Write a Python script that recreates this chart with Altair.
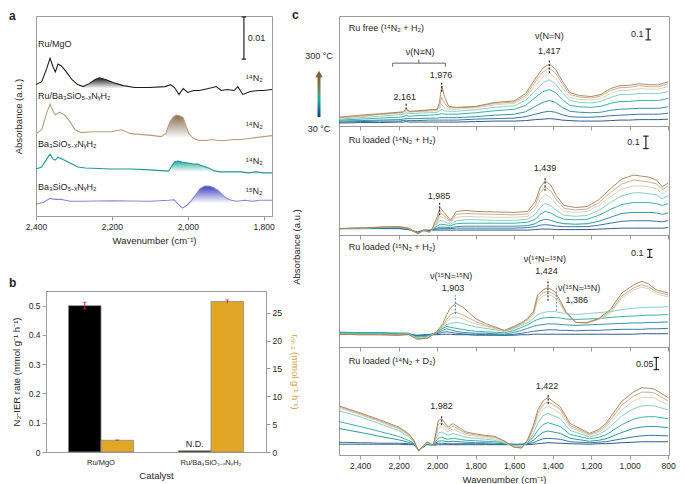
import altair as alt
import pandas as pd

FONT = "Liberation Sans"
TXT = "#262626"
FRAME = "#9b9b9b"

# ================= Panel a : DRIFT spectra (a.u.; scale bar 0.01 = 43 units) =================
A_WN_MGO = [2400, 2385, 2372, 2363, 2355, 2349, 2342, 2333, 2320, 2305, 2290, 2276, 2260, 2245, 2233, 2215, 2195, 2170, 2140, 2100,
            2060, 2045, 2035, 2023, 2012, 2000, 1985, 1970, 1945, 1925, 1912, 1895, 1878, 1868, 1855, 1835, 1815, 1800, 1778]
A_MGO = [134, 137, 150, 161, 152, 147, 155, 153, 147, 139, 134, 132, 135, 139, 141, 139, 136, 133, 131, 131,
         132, 134, 131, 124, 130, 126, 128, 128, 130, 132, 128, 129, 128, 132, 124, 127, 128, 128, 129]
A_WN_RU = [2400, 2385, 2372, 2363, 2355, 2349, 2338, 2325, 2310, 2297, 2280, 2250, 2200, 2175, 2150, 2120, 2090, 2070, 2058, 2048,
           2038, 2030, 2020, 2012, 2005, 1997, 1985, 1970, 1950, 1935, 1920, 1900, 1880, 1860, 1840, 1820, 1800, 1778]
A_RU = [84, 88, 105, 114, 107, 103, 106, 103, 96, 88, 85, 86, 86, 88, 84, 83, 82, 81, 84, 95,
        101, 103, 102, 100, 92, 84, 79, 77, 77, 78, 77, 77, 78, 78, 79, 80, 81, 82]
A_WN_BA14 = [2400, 2385, 2372, 2363, 2355, 2349, 2342, 2330, 2310, 2290, 2270, 2200, 2150, 2100, 2060, 2050, 2042, 2035, 2027, 2015,
             2000, 1985, 1975, 1960, 1945, 1930, 1915, 1890, 1860, 1840, 1820, 1800, 1778]
A_BA14 = [48, 50, 58, 63, 58, 57, 60, 58, 54, 50, 49, 48, 48, 47, 46, 46, 51, 55, 56, 55,
          54, 53, 53, 51, 49, 46, 45, 45, 45, 44, 45, 44, 44]
A_WN_BA15 = [2400, 2380, 2363, 2350, 2335, 2310, 2280, 2200, 2100, 2050, 2036, 2025, 2014, 2002, 1990, 1980, 1967, 1955, 1945, 1933,
             1920, 1910, 1898, 1885, 1870, 1850, 1830, 1810, 1790, 1778]
A_BA15 = [12, 14, 18, 17, 17, 15, 15, 15.5, 15, 16, 16.5, 12, 8, 11, 16, 21, 28, 30.5, 30.5, 29,
          26, 22, 18, 16, 15, 16, 15, 16, 16, 16]

A_SAMPLES = ["Ru/MgO", "Ru/Ba₃SiO₅₋ₓNᵧH₂", "Ba₃SiO₅₋ₓNᵧH₂", "Ba₃SiO₅₋ₓNᵧH₂"]
A_GAS = ["¹⁴N₂", "¹⁴N₂", "¹⁴N₂", "¹⁵N₂"]
A_LABEL_Y = [175, 122, 73, 30]
A_GAS_Y = [141, 93, 56, 25]
A_COLORS = ["#1c1c1c", "#b99d7d", "#1c9a90", "#8585dc"]
A_FILL = ["#111111", "#7f6547", "#1aa597", "#3535b8"]
A_FILL_RANGE = [(2150, 2285), (1990, 2060), (1925, 2046), (1885, 1996)]
A_FILL_BASE = [130, 79, 45, 13]

# ================= Panel b : rates =================
B_CATS = ["Ru/MgO", "Ru/Ba₃SiO₅₋ₓNᵧH₂"]
B_IER = [0.50, 0.004]
B_IER_ERR = [0.011, 0.0]
B_NH3 = [2.1, 27.0]
B_NH3_ERR = [0.06, 0.3]

# ================= Panel c : temperature-resolved spectra =================
C_TEMPS = ["30", "69", "107", "146", "184", "223", "261", "300"]
C_COLORS = ["#1b4878", "#22679a", "#1b8a9c", "#25a89c", "#7ccabb", "#d6cdb3", "#c4a782", "#a67d52"]
C_TICKS = [2400, 2200, 2000, 1800, 1600, 1400, 1200, 1000, 800]

P1_WN = [2510, 2400, 2300, 2200, 2175, 2161, 2145, 2100, 2040, 2000, 1988, 1976, 1962, 1940, 1900, 1800, 1700, 1600,
         1540, 1490, 1450, 1417, 1385, 1350, 1310, 1260, 1200, 1150, 1100, 1050, 1000, 950, 900, 850, 800]
P1 = [
    [3, 3.5, 3.5, 4, 4, 4.5, 4, 4, 4, 4, 4, 4, 4, 4, 4, 4.5, 5, 5, 5.5, 6.5, 7, 7.5, 7, 6, 5.5, 5, 5, 5, 5.5, 6, 6, 6.5, 6.5, 6.5, 7],
    [4, 4.5, 5, 5, 5.5, 6, 5.5, 5.5, 6, 6, 6, 6, 6, 6, 6, 7, 7.5, 8, 9.5, 12, 14, 15, 14, 11.5, 9.5, 9, 9, 9.5, 10.5, 11, 11.5, 12, 12, 12, 13],
    [5, 5.5, 6, 6.5, 7, 8, 7.5, 7.5, 8, 8, 8.5, 8.5, 8.5, 8.5, 8.5, 9.5, 11, 12, 14.5, 20, 24, 26, 24, 19, 15, 14, 13.5, 14, 16, 17, 17.5, 18, 18, 18, 19.5],
    [6, 7, 8, 9, 9.5, 11, 10, 10.5, 11, 11.5, 12, 12.5, 12, 12, 12, 13.5, 15.5, 17, 21, 29, 35, 37, 34, 27, 21, 19.5, 19, 20, 23, 25, 25, 26, 26, 26, 28],
    [7, 8.5, 10, 11.5, 12, 13.5, 12.5, 13, 13.5, 14, 15.5, 17, 15.5, 15, 15, 16.5, 19, 20.5, 26, 36, 44, 47, 43, 34, 26, 24, 23.5, 25, 29, 32, 32, 33, 33, 33, 35],
    [8, 9.5, 11.5, 13, 13.5, 15.5, 14, 14.5, 15, 15.5, 18, 22, 18.5, 17, 17, 18.5, 21.5, 23, 29, 41, 50, 54, 49, 39, 29, 27, 26.5, 28, 33, 36, 36.5, 38, 37.5, 37.5, 40],
    [8.5, 10, 12, 13.5, 14, 16.5, 14.5, 15, 16, 16.5, 20, 29, 23, 18.5, 18.5, 19.5, 23, 24.5, 31, 45, 55, 59, 54, 43, 32, 29.5, 28.5, 30.5, 36, 39, 39.5, 41, 40, 40, 43],
    [9, 11, 12.5, 14, 14.5, 18, 15, 15.5, 16.5, 17, 24, 41, 30, 20, 19, 20, 24, 25.5, 33, 48, 59, 63, 58, 46, 34, 31, 30, 32, 38, 41, 41.5, 43, 42, 42, 45],
]

P2_WN = [2510, 2400, 2300, 2200, 2150, 2100, 2070, 2040, 2025, 2000, 1985, 1960, 1930, 1900, 1850, 1800, 1700, 1600,
         1530, 1490, 1465, 1439, 1410, 1380, 1340, 1280, 1220, 1160, 1100, 1040, 980, 940, 900, 860, 830, 800]
P2 = [
    [6.5, 6.5, 6.5, 6.5, 5.5, 3, 5, 5, 5, 5, 5, 5, 5, 5, 5, 5, 5, 5, 5, 5.5, 6, 6, 6, 5.5, 5.5, 5.5, 5.5, 6, 6.5, 7, 7, 7, 7, 7, 7, 7.5],
    [6.5, 6.5, 7, 7, 6, 2.5, 5, 4.5, 5.5, 6, 6.5, 6.5, 6.5, 7, 7, 7, 7, 7, 7.5, 8.5, 10, 10.5, 10, 9, 8.5, 8.5, 8.5, 10, 12, 14, 14.5, 14.5, 14.5, 14, 13.5, 14.5],
    [6.5, 7, 7, 7.5, 6.5, 2, 4.5, 4, 5.5, 7, 8, 8, 7.5, 8.5, 9, 9, 9, 9, 9.5, 11.5, 14.5, 16, 15, 13, 11.5, 11, 11.5, 14, 18, 22, 23, 23, 23, 22.5, 21, 22.5],
    [6.5, 7, 7.5, 8, 6.5, 1.5, 4.5, 3.5, 5.5, 9, 11, 10.5, 9.5, 11.5, 12, 12, 12, 12, 13, 16, 21, 24, 22.5, 19, 16, 15.5, 16, 20, 26, 31, 33, 33, 33, 32, 30, 32],
    [6.5, 7, 7.5, 8, 6.5, 1.5, 4.5, 3, 5.5, 11, 15, 13.5, 11, 14.5, 15.5, 15.5, 15, 15, 16, 21, 28, 32, 30, 25, 20, 19, 20, 25, 33, 40, 43, 43, 42, 41, 37, 40],
    [6.5, 7, 8, 8.5, 7, 1.5, 5, 3, 6, 13, 19, 16.5, 13, 18, 19, 18.5, 18, 18, 19, 26, 36, 41, 38, 31, 24, 23, 24, 30, 39, 47, 50, 50, 49, 47, 42, 46],
    [6.5, 7, 8, 8.5, 7, 1.5, 5, 3, 6.5, 15, 23, 19, 14, 21, 22, 21.5, 21, 20.5, 21.5, 30, 43, 49, 45, 36, 27, 25.5, 26.5, 33, 43, 52, 56, 55, 54, 52, 46, 50],
    [6.5, 7, 8, 8.5, 7, 1.5, 5, 3, 7, 18, 28, 22, 15, 24, 25, 24, 23.5, 23, 24, 34, 48, 55, 51, 40, 30, 28, 29, 36, 47, 57, 61, 60, 59, 56, 49, 53],
]

P3_WN = [2510, 2400, 2300, 2200, 2150, 2104, 2050, 2003, 1970, 1950, 1930, 1903, 1870, 1840, 1800, 1750, 1700, 1650, 1600,
         1560, 1530, 1500, 1478, 1450, 1424, 1386, 1360, 1330, 1280, 1220, 1160, 1100, 1040, 980, 937, 900, 860, 800]
P3 = [
    [13, 13, 13, 12.5, 12.5, 12, 12.5, 12.5, 13, 13, 13, 12.5, 12.5, 12.5, 12, 12, 12, 12, 12, 12.5, 12.5, 13, 13, 13, 13, 13, 13, 13, 13, 13, 13, 13, 13, 13, 13.5, 13.5, 13.5, 13.5],
    [14, 14, 14, 13.5, 13.5, 11.5, 12.5, 13.5, 15, 15.5, 15, 14, 13.5, 13, 13, 12.5, 12.5, 12, 13, 14, 15, 16, 16.5, 17, 17.5, 17.5, 17, 17, 16.5, 17, 17, 17.5, 18, 18, 18, 18.5, 18.5, 19],
    [15, 14.5, 14.5, 14, 14, 11, 12, 14.5, 17, 18.5, 17.5, 16, 15, 14.5, 14, 14, 13.5, 13, 15, 17, 19, 21, 22, 23, 23.5, 23.5, 23, 22.5, 22, 22.5, 23, 23.5, 24, 24.5, 24.5, 25, 25, 25.5],
    [15, 14.5, 14.5, 14, 14, 10, 11, 15, 19, 21, 20, 19, 18, 17, 16, 15.5, 15, 14.5, 17, 20, 22.5, 26, 28, 29.5, 30, 30, 29.5, 28.5, 28, 28.5, 29, 30, 31, 31.5, 32, 32.5, 32.5, 33],
    [14, 13.5, 13.5, 13, 13.5, 9, 10, 15, 20, 23, 24, 25, 24, 22.5, 20.5, 19, 17.5, 16, 19, 22, 25, 29, 33, 35, 36, 36, 35, 34, 33, 34, 35, 36, 38, 39.5, 40, 40.5, 40.5, 41],
    [13, 12.5, 12.5, 12, 13, 8.5, 9.5, 15, 21, 26, 29, 30.5, 29, 26.5, 23.5, 21, 18.5, 16, 19.5, 23, 27, 32, 47, 52, 54, 50, 43, 34, 25, 24, 28, 34, 50, 58, 61, 59, 54, 51],
    [13, 12.5, 12.5, 12, 13, 8, 9, 15, 22, 28, 33, 35.5, 33, 30, 26, 22, 19.5, 16.5, 20, 24, 28, 34, 50, 55, 57, 53, 45, 35, 25, 24.5, 28.5, 36, 52, 60, 63.5, 61, 56, 53],
    [13, 12.5, 12.5, 12, 13, 8, 9, 15, 24, 33, 40, 44.5, 41, 36, 29, 24, 20.5, 17, 21, 25, 29, 36, 53, 58, 60.5, 56, 47, 36, 25, 25, 29, 38, 55, 63, 67, 64, 58, 55],
]

P4_WN = [2510, 2400, 2358, 2300, 2200, 2150, 2121, 2096, 2053, 2020, 1994, 1977, 1943, 1918, 1850, 1800, 1750, 1700, 1648,
         1600, 1560, 1529, 1500, 1478, 1450, 1424, 1360, 1309, 1208, 1160, 1123, 1039, 980, 937, 900, 870, 800]
P4 = [
    [11, 11, 11, 11, 11, 10.5, 10.5, 5, 10.5, 10, 10.5, 10.5, 10.5, 10.5, 10.5, 10.5, 10.5, 10.5, 10.5, 10.5, 10.5, 10.5, 11, 11.5, 12, 12.5, 12, 11.5, 11, 11.5, 11.5, 12.5, 13, 13.5, 13.5, 13.5, 13.5],
    [13, 12.5, 12.5, 12, 12, 11.5, 11, 5, 11, 10.5, 12, 12, 11.5, 11.5, 11.5, 11.5, 11.5, 11, 11, 11, 11, 11.5, 12.5, 14.5, 16.5, 17, 16, 13.5, 12.5, 13, 13.5, 16.5, 18.5, 19.5, 20, 20, 19.5],
    [27, 23, 21.5, 19, 15.5, 13, 11.5, 5, 11, 10.5, 14, 14.5, 13.5, 14, 13, 12.5, 12.5, 12, 11.5, 10.5, 11, 12, 15, 19, 23, 24.5, 22, 17, 14, 15, 16.5, 23, 27, 28.5, 29, 29, 28],
    [34, 29, 27, 24, 19, 15, 12, 4.5, 11, 10.5, 17, 18, 16, 17, 15, 14.5, 14, 13.5, 12.5, 10.5, 10.5, 13, 18, 25, 31, 33, 29, 21, 16.5, 18, 20.5, 31, 36.5, 38.5, 39, 39, 37],
    [45, 39, 36, 32, 25, 19, 13.5, 4, 12, 10.5, 22, 23.5, 20, 22, 18, 17, 16, 15, 12, 9, 8.5, 13, 22, 32, 40, 42.5, 37, 25, 18.5, 21, 25, 40, 47, 50, 50.5, 50, 46],
    [48, 41, 38, 34, 26.5, 20, 14, 4, 12.5, 10, 27, 29, 23.5, 26.5, 20.5, 19, 17.5, 16.5, 12.5, 8.5, 8, 14, 26, 38, 46.5, 50, 42.5, 28, 20, 23, 28, 46, 55, 58.5, 58.5, 58, 51],
    [49, 42, 39, 35, 27.5, 21, 14.5, 4, 13, 10, 31, 33, 26, 29.5, 22, 20.5, 19, 18, 13.5, 8, 7.5, 15, 28, 42, 51, 54.5, 46.5, 30, 21, 24.5, 30, 51, 60, 64, 64, 63, 55],
    [50, 43, 40, 36, 28.5, 22, 15, 4, 13.5, 10, 35, 37, 28.5, 32, 23.5, 21.5, 20, 19, 14, 8, 7, 16, 30, 45, 55, 58.5, 49, 32, 22, 26, 32, 55, 64, 68.5, 68, 67, 58.5],
]

ONE = pd.DataFrame({"k": [0]})


def grad(color):
    return alt.LinearGradient(
        gradient="linear",
        stops=[alt.GradientStop(color=color, offset=0), alt.GradientStop(color="#ffffff", offset=1)],
        x1=0, x2=0, y1=0, y2=1)


def pix_text(txt, x, y, **kw):
    return alt.Chart(ONE).mark_text(text=txt, **kw).encode(x=alt.value(x), y=alt.value(y))


# ---------------- panel a ----------------
xa = alt.X("wn:Q", scale=alt.Scale(domain=[1778, 2400], reverse=True, nice=False, zero=False),
           axis=alt.Axis(values=[2400, 2200, 2000, 1800], format=",d", title="Wavenumber (cm⁻¹)", titlePadding=5))
ya = alt.Y("A:Q", scale=alt.Scale(domain=[0, 204], nice=False, zero=False),
           axis=alt.Axis(title="Absorbance (a.u.)", labels=False, ticks=False, domain=False, titlePadding=13))

a_layers = []
for wn, vals, col, fcol, (lo, hi), base in zip([A_WN_MGO, A_WN_RU, A_WN_BA14, A_WN_BA15],
                                               [A_MGO, A_RU, A_BA14, A_BA15],
                                               A_COLORS, A_FILL, A_FILL_RANGE, A_FILL_BASE):
    df = pd.DataFrame({"wn": wn, "A": vals})
    a_layers.append(alt.Chart(df).transform_filter(f"datum.wn >= {lo} && datum.wn <= {hi}")
                    .mark_area(fill=grad(fcol), opacity=0.95)
                    .encode(x=xa, y=ya, y2=alt.datum(base)))
    a_layers.append(alt.Chart(df).mark_line(color=col, strokeWidth=1.1).encode(x=xa, y=ya))

a_lab = pd.DataFrame({"wn": [2395] * 4, "A": A_LABEL_Y, "t": A_SAMPLES})
a_gas = pd.DataFrame({"wn": [1847] * 4, "A": A_GAS_Y, "t": A_GAS})
a_layers.append(alt.Chart(a_lab).mark_text(align="left", baseline="middle", fontSize=9).encode(x=xa, y=ya, text="t:N"))
a_layers.append(alt.Chart(a_gas).mark_text(align="left", baseline="middle", fontSize=9).encode(x=xa, y=ya, text="t:N"))
a_bar = pd.DataFrame({"wn": [1852], "A": [160], "A2": [203]})
a_cap = pd.DataFrame({"wn": [1858, 1858], "wn2": [1846, 1846], "A": [160, 203]})
a_layers.append(alt.Chart(a_bar).mark_rule(color="#222", strokeWidth=1.2).encode(x=xa, y=ya, y2="A2:Q"))
a_layers.append(alt.Chart(a_cap).mark_rule(color="#222", strokeWidth=1.2).encode(x=xa, x2="wn2:Q", y=ya))
a_layers.append(alt.Chart(pd.DataFrame({"wn": [1842], "A": [182], "t": ["0.01"]}))
                .mark_text(align="left", baseline="middle", fontSize=9).encode(x=xa, y=ya, text="t:N"))
a_layers.append(pix_text("a", -27, 4, fontWeight="bold", fontSize=12, align="left", baseline="alphabetic"))
panel_a = alt.layer(*a_layers).properties(width=236, height=200)

# ---------------- panel b ----------------
xb = alt.X("cat:N", sort=B_CATS, scale=alt.Scale(domain=B_CATS, paddingInner=0, paddingOuter=0),
           axis=alt.Axis(title="Catalyst", labelAngle=0, ticks=False, labelFontSize=7.5, labelPadding=6, titlePadding=5))
xo = alt.XOffset("s:N", scale=alt.Scale(domain=["IER", "NH3"], paddingInner=0, paddingOuter=0.69))

b_ier = pd.DataFrame({"cat": B_CATS, "s": ["IER", "IER"], "v": B_IER,
                      "lo": [v - e for v, e in zip(B_IER, B_IER_ERR)], "hi": [v + e for v, e in zip(B_IER, B_IER_ERR)]})
b_nh3 = pd.DataFrame({"cat": B_CATS, "s": ["NH3", "NH3"], "v": B_NH3,
                      "lo": [v - e for v, e in zip(B_NH3, B_NH3_ERR)], "hi": [v + e for v, e in zip(B_NH3, B_NH3_ERR)]})

L_SCALE = alt.Scale(domain=[0, 0.55], nice=False, zero=True)
R_SCALE = alt.Scale(domain=[0, 28.9], nice=False, zero=True)
L_AXIS = alt.Axis(orient="left", values=[0, 0.1, 0.2, 0.3, 0.4, 0.5], format=".1~f", labelOverlap=False,
                  tickCount=6, title="N₂-IER rate (mmol g⁻¹ h⁻¹)", titlePadding=7)
R_AXIS = alt.Axis(orient="right", values=[0, 5, 10, 15, 20, 25], format="d", labelOverlap=False,
                  tickCount=6, title="rₙₕ₃ (mmol g⁻¹ h⁻¹)", titleColor="#d6a23c", titlePadding=8)


def yL(f):
    return alt.Y(f, scale=L_SCALE, axis=L_AXIS)


def yR(f):
    return alt.Y(f, scale=R_SCALE, axis=R_AXIS)


ERR = "#d62728"
b_ier_e = b_ier[b_ier.hi > b_ier.lo]
left_b = alt.layer(
    alt.Chart(b_ier).mark_bar(color="#000000", stroke="#8c8c8c", strokeWidth=0.8).encode(x=xb, xOffset=xo, y=yL("v:Q")),
    alt.Chart(b_ier_e).mark_rule(color=ERR).encode(x=xb, xOffset=xo, y=yL("lo:Q"), y2="hi:Q"),
    alt.Chart(b_ier_e).mark_tick(color=ERR, thickness=1, size=4).encode(x=xb, xOffset=xo, y=yL("hi:Q")),
    alt.Chart(b_ier_e).mark_tick(color=ERR, thickness=1, size=4).encode(x=xb, xOffset=xo, y=yL("lo:Q")),
    alt.Chart(pd.DataFrame({"cat": [B_CATS[1]], "s": ["IER"], "v": [0.011], "t": ["N.D."]}))
    .mark_text(baseline="bottom", fontSize=9).encode(x=xb, xOffset=xo, y=yL("v:Q"), text="t:N"),
    pix_text("b", -37, -4, fontWeight="bold", fontSize=12, align="left", baseline="alphabetic"),
)
right_b = alt.layer(
    alt.Chart(b_nh3).mark_bar(color="#e2a526", stroke="#8c8c8c", strokeWidth=0.8).encode(x=xb, xOffset=xo, y=yR("v:Q")),
    alt.Chart(b_nh3).mark_rule(color=ERR).encode(x=xb, xOffset=xo, y=yR("lo:Q"), y2="hi:Q"),
    alt.Chart(b_nh3).mark_tick(color=ERR, thickness=1, size=4).encode(x=xb, xOffset=xo, y=yR("hi:Q")),
)
panel_b = alt.layer(left_b, right_b).resolve_scale(y="independent").properties(width=220, height=161)

# ---------------- panel c ----------------
C_XS = alt.Scale(domain=[795, 2510], reverse=True, nice=False, zero=False)


def c_panel(wn, rows, ymax, h, header, texts, dashes, bar, last, extras=(), bracket=False):
    recs = [{"wn": w, "A": v, "T": t} for t, vals in zip(C_TEMPS, rows) for w, v in zip(wn, vals)]
    df = pd.DataFrame(recs)
    if last:
        ax = alt.Axis(values=C_TICKS, format=",d", title="Wavenumber (cm⁻¹)", titlePadding=5)
    else:
        ax = alt.Axis(values=C_TICKS, labels=False, title="")
    x = alt.X("wn:Q", scale=C_XS, axis=ax)
    y = alt.Y("A:Q", scale=alt.Scale(domain=[0, ymax], nice=False, zero=False), axis=None)
    layers = [alt.Chart(df).mark_line(strokeWidth=0.9, clip=True).encode(
        x=x, y=y, color=alt.Color("T:N", scale=alt.Scale(domain=C_TEMPS, range=C_COLORS), legend=None))]
    hd = pd.DataFrame({"wn": [header[0]], "A": [header[1]], "t": [header[2]]})
    layers.append(alt.Chart(hd).mark_text(align="left", baseline="middle", fontSize=9).encode(x=x, y=y, text="t:N"))
    tx = pd.DataFrame(texts, columns=["wn", "A", "t"])
    layers.append(alt.Chart(tx).mark_text(align="center", baseline="middle", fontSize=9).encode(x=x, y=y, text="t:N"))
    ds = pd.DataFrame(dashes, columns=["wn", "A", "A2", "c"])
    layers.append(alt.Chart(ds).mark_rule(strokeDash=[2, 1.5], strokeWidth=1.1).encode(
        x=x, y=y, y2="A2:Q", color=alt.Color("c:N", scale=None)))
    bwn, b1, b2, blab, lwn, ly = bar
    layers.append(alt.Chart(pd.DataFrame({"wn": [bwn], "A": [b1], "A2": [b2]}))
                  .mark_rule(color="#222", strokeWidth=1.2).encode(x=x, y=y, y2="A2:Q"))
    layers.append(alt.Chart(pd.DataFrame({"wn": [bwn + 14, bwn + 14], "wn2": [bwn - 14, bwn - 14], "A": [b1, b2]}))
                  .mark_rule(color="#222", strokeWidth=1.2).encode(x=x, x2="wn2:Q", y=y))
    layers.append(alt.Chart(pd.DataFrame({"wn": [lwn], "A": [ly], "t": [blab]}))
                  .mark_text(align="right", baseline="middle", fontSize=9).encode(x=x, y=y, text="t:N"))
    if bracket:
        hl = pd.DataFrame({"wn": [2231], "wn2": [1957], "A": [64]})
        vl = pd.DataFrame({"wn": [2231, 1957, 2095], "A": [60.5, 60.5, 64], "A2": [64, 64, 67.5]})
        layers.append(alt.Chart(hl).mark_rule(color="#666").encode(x=x, x2="wn2:Q", y=y))
        layers.append(alt.Chart(vl).mark_rule(color="#666").encode(x=x, y=y, y2="A2:Q"))
    layers.extend(extras)
    return alt.layer(*layers).properties(width=330, height=h)


legend_marks = [
    pix_text("c", -47, 3, fontWeight="bold", fontSize=12, align="left", baseline="alphabetic"),
    pix_text("300 °C", -20, 40, fontSize=9, align="center", baseline="middle"),
    pix_text("30 °C", -20, 113, fontSize=9, align="center", baseline="middle"),
    alt.Chart(ONE).mark_rect(fill=alt.LinearGradient(
        gradient="linear",
        stops=[alt.GradientStop(color="#7a6234", offset=0), alt.GradientStop(color="#6d8a5c", offset=0.35),
               alt.GradientStop(color="#1fb0a4", offset=0.55), alt.GradientStop(color="#13407c", offset=1)],
        x1=0, x2=0, y1=0, y2=1)).encode(x=alt.value(-21.5), x2=alt.value(-18.5), y=alt.value(61), y2=alt.value(101)),
    alt.Chart(ONE).mark_point(shape="triangle-up", filled=True, size=55, color="#7a6234", opacity=1)
    .encode(x=alt.value(-20), y=alt.value(58)),
]

c1 = c_panel(P1_WN, P1, 112, 110, (2459, 100, "Ru free (¹⁴N₂ + H₂)"),
             [(2089, 75, "ν(N≡N)"), (2168, 30, "2,161"), (1980, 51.5, "1,976"), (1417, 92, "ν(N=N)"), (1417, 76, "1,417")],
             [(2161, 17, 24, "#222222"), (1976, 35, 45, "#222222"), (1417, 54, 68, "#222222")],
             (903, 87.7, 98.7, "0.1", 927, 94), False, legend_marks, bracket=True)
c2 = c_panel(P2_WN, P2, 111, 109, (2459, 96.3, "Ru loaded (¹⁴N₂ + H₂)"),
             [(1439, 68, "1,439"), (1990, 40, "1,985")],
             [(1439, 45, 59, "#222222"), (1987, 20, 33, "#222222")],
             (915, 88, 100.7, "0.1", 947, 94.5), False)
c3 = c_panel(P3_WN, P3, 114, 112, (2459, 101.3, "Ru loaded (¹⁵N₂ + H₂)"),
             [(1927, 72, "ν(¹⁵N=¹⁵N)"), (1917, 59.7, "1,903"), (1440, 89.3, "ν(¹⁴N=¹⁵N)"), (1432, 77.7, "1,424"),
              (1262, 59.7, "ν(¹⁵N=¹⁵N)"), (1274, 48, "1,386")],
             [(1905, 33.7, 52.7, "#3b8fd8"), (1424, 47, 68.7, "#222222"), (1380, 37, 62.7, "#8080f0")],
             (895, 91.3, 99.3, "0.1", 927, 95.3), False,
             [pix_text("Absorbance (a.u.)", -42, 12, fontSize=9.5, angle=270, align="center", baseline="middle")])
c4 = c_panel(P4_WN, P4, 110, 108, (2459, 95.3, "Ru loaded (¹⁴N₂ + D₂)"),
             [(1429, 70.3, "1,422"), (1977, 49.7, "1,982")],
             [(1423, 52, 62, "#222222"), (1977, 30.3, 41, "#222222")],
             (861, 87, 99.3, "0.05", 876, 92.7), True)

# ---------------- layout ----------------
spacer = alt.Chart(ONE).mark_point(opacity=0).encode(
    x=alt.X("k:Q", axis=None), y=alt.Y("k:Q", axis=None)
).properties(width=10, height=161, view=alt.ViewBackground(stroke="transparent"))

row_b = alt.hconcat(spacer, panel_b, spacing=0, bounds="flush")
left = alt.vconcat(panel_a, row_b, spacing=75, bounds="flush")
right = alt.vconcat(c1, c2, c3, c4, spacing=0, bounds="flush")

chart = alt.hconcat(left, right, spacing=-9, padding=0).configure_view(
    stroke=FRAME, strokeWidth=1
).configure_axis(
    labelFont=FONT, titleFont=FONT, labelFontSize=8.5, titleFontSize=9.5, labelColor=TXT, titleColor=TXT,
    titleFontWeight="normal", domainColor=FRAME, tickColor=FRAME, tickSize=4, grid=False,
    labelPadding=2, labelFlush=False, labelOverlap=False
).configure_text(font=FONT, color=TXT)

chart.save("out.html", embed_options={"renderer": "svg", "actions": False})
